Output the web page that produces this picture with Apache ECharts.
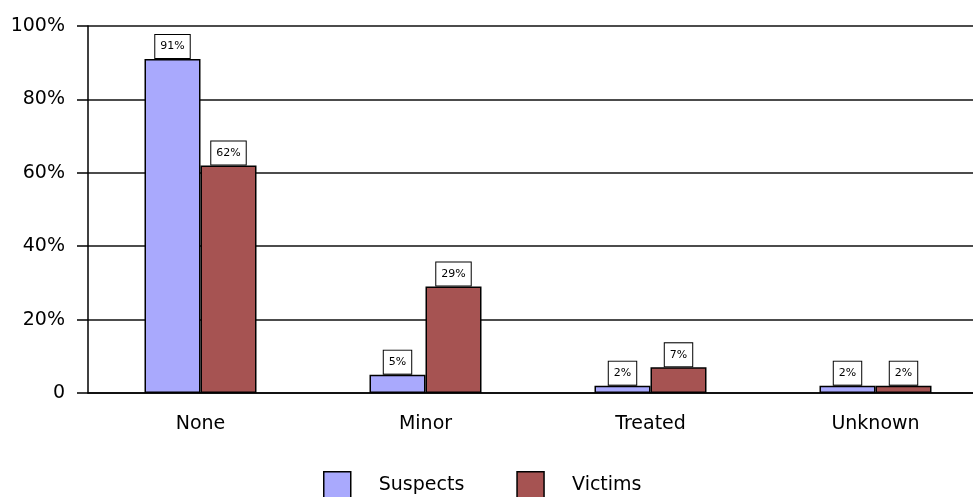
<!DOCTYPE html>
<html>
<head>
<meta charset="utf-8">
<script src="https://cdn.jsdelivr.net/npm/echarts@6/dist/echarts.min.js"></script>
<style>
  html, body { margin: 0; padding: 0; background: #fff; }
  #chart { width: 973px; height: 497px; }
</style>
</head>
<body>
<div id="chart"></div>
<script>
// Injury outcome categories and the share of each group (percent)
const categories = ['None', 'Minor', 'Treated', 'Unknown'];
const suspects = [91, 5, 2, 2];
const victims = [62, 29, 7, 2];

const FONT = 'DejaVu Sans';

const valueLabel = {
  show: true,
  position: 'top',
  distance: 1,
  formatter: p => p.value + '%',
  fontFamily: FONT,
  fontSize: 11,
  color: '#000',
  backgroundColor: '#fff',
  borderColor: '#000',
  borderWidth: 1,
  padding: [6, 5, 6, 5]
};

const chart = echarts.init(document.getElementById('chart'), null, { renderer: 'canvas' });

chart.setOption({
  animation: false,
  backgroundColor: '#fff',
  grid: { left: 88, top: 26, width: 900, height: 367, containLabel: false, outerBoundsMode: 'none' },
  legend: {
    data: ['Suspects', 'Victims'],
    left: 318,
    top: 466,
    itemWidth: 27,
    itemHeight: 27,
    itemGap: 52,
    icon: 'rect',
    itemStyle: { borderColor: '#000', borderWidth: 1.5 },
    textStyle: { fontFamily: FONT, fontSize: 19, color: '#000', padding: [0, 0, 0, 23] }
  },
  xAxis: {
    type: 'category',
    data: categories,
    axisLine: { lineStyle: { color: '#000', width: 1.5 } },
    axisTick: { alignWithLabel: true, length: 13, lineStyle: { color: '#000', width: 1.5 } },
    axisLabel: { fontFamily: FONT, fontSize: 19, color: '#000', margin: 22 }
  },
  yAxis: {
    type: 'value',
    min: 0,
    max: 100,
    interval: 20,
    axisLine: { show: true, lineStyle: { color: '#000', width: 1.5 } },
    axisTick: { show: true, length: 11, lineStyle: { color: '#000', width: 1.5 } },
    splitLine: { lineStyle: { color: '#111', width: 1.5 } },
    axisLabel: {
      fontFamily: FONT,
      fontSize: 19,
      color: '#000',
      margin: 23,
      formatter: v => (v === 0 ? '0' : v + '%')
    }
  },
  series: [
    {
      name: 'Suspects',
      type: 'bar',
      data: suspects,
      barWidth: 56,
      barGap: '0%',
      itemStyle: { color: '#a9a9fd', borderColor: '#000', borderWidth: 1.5 },
      label: valueLabel
    },
    {
      name: 'Victims',
      type: 'bar',
      data: victims,
      barWidth: 56,
      barGap: '0%',
      itemStyle: { color: '#a65352', borderColor: '#000', borderWidth: 1.5 },
      label: valueLabel
    }
  ]
});
</script>
</body>
</html>
